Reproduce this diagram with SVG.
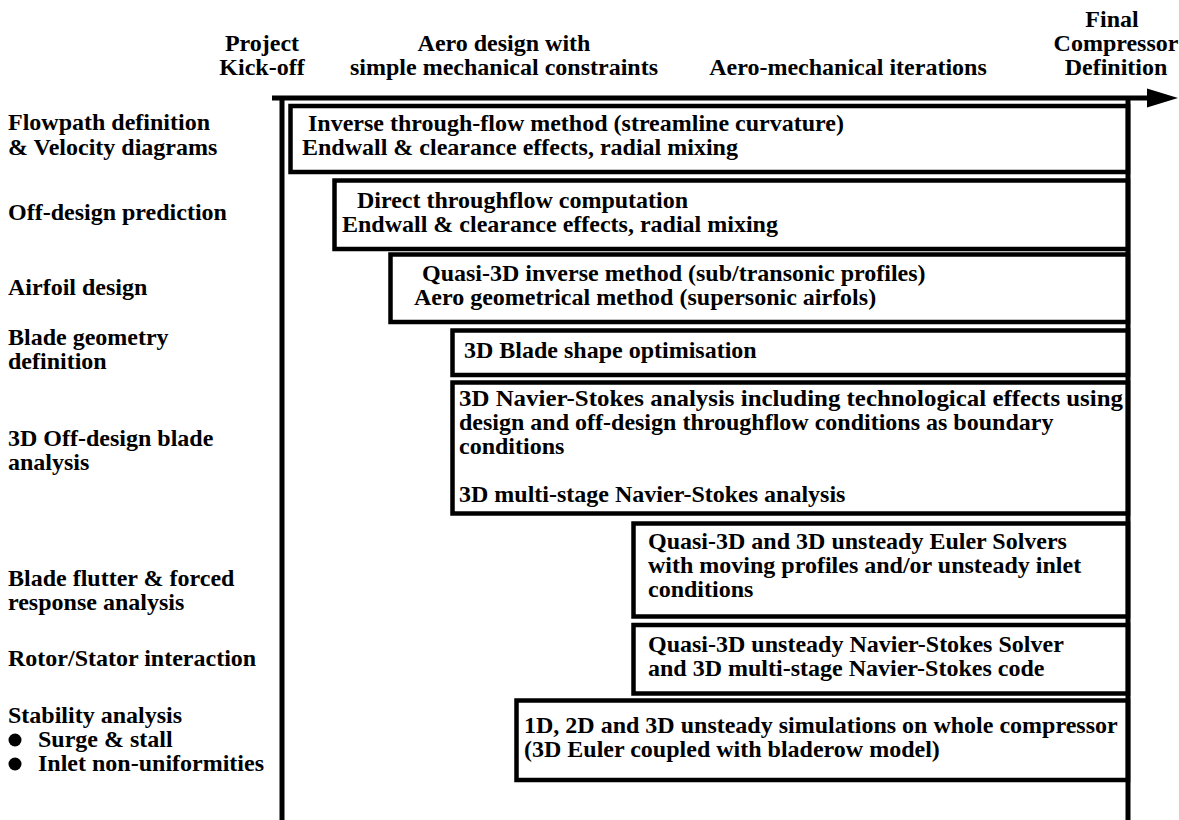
<svg xmlns="http://www.w3.org/2000/svg" width="1179" height="820" viewBox="0 0 1179 820">
<style>
.t{font-family:"Liberation Serif","Times New Roman",serif;font-weight:bold;font-size:24px;fill:#000}
.m{text-anchor:middle}
.box{fill:#fff;stroke:#000;stroke-width:4.5}
.ax{stroke:#000;stroke-width:5;fill:none}
</style>
<rect width="1179" height="820" fill="#fff"/>
<g id="header">
<text class="t m" x="262" y="51">Project</text>
<text class="t m" x="262" y="75">Kick-off</text>
<text class="t m" x="504" y="51">Aero design with</text>
<text class="t m" x="504" y="75">simple mechanical constraints</text>
<text class="t m" x="848" y="75">Aero-mechanical iterations</text>
<text class="t m" x="1112" y="27">Final</text>
<text class="t m" x="1116" y="51">Compressor</text>
<text class="t m" x="1116" y="75">Definition</text>
</g>
<g id="labels">
<text class="t" x="8" y="130">Flowpath definition</text>
<text class="t" x="8" y="155">&amp; Velocity diagrams</text>
<text class="t" x="8" y="220">Off-design prediction</text>
<text class="t" x="8" y="295">Airfoil design</text>
<text class="t" x="8" y="345">Blade geometry</text>
<text class="t" x="8" y="369">definition</text>
<text class="t" x="8" y="446">3D Off-design blade</text>
<text class="t" x="8" y="470">analysis</text>
<text class="t" x="8" y="586">Blade flutter &amp; forced</text>
<text class="t" x="8" y="610">response analysis</text>
<text class="t" x="8" y="666">Rotor/Stator interaction</text>
<text class="t" x="8" y="723">Stability analysis</text>
<circle cx="15" cy="740" r="6.5" fill="#000"/>
<text class="t" x="38" y="747">Surge &amp; stall</text>
<circle cx="15" cy="764" r="6.5" fill="#000"/>
<text class="t" x="38" y="771">Inlet non-uniformities</text>
</g>
<g id="box1">
<rect class="box" x="290.5" y="106" width="837.5" height="66"/>
<text class="t" x="308" y="131">Inverse through-flow method (streamline curvature)</text>
<text class="t" x="302" y="155">Endwall &amp; clearance effects, radial mixing</text>
</g>
<g id="box2">
<rect class="box" x="334.5" y="180.5" width="793.5" height="68.5"/>
<text class="t" x="357" y="208">Direct throughflow computation</text>
<text class="t" x="342" y="232">Endwall &amp; clearance effects, radial mixing</text>
</g>
<g id="box3">
<rect class="box" x="390.5" y="254.5" width="737.5" height="67.5"/>
<text class="t" x="422" y="281">Quasi-3D inverse method (sub/transonic profiles)</text>
<text class="t" x="414" y="305">Aero geometrical method (supersonic airfols)</text>
</g>
<g id="box4">
<rect class="box" x="452.5" y="330.5" width="675.5" height="44.5"/>
<text class="t" x="464" y="358">3D Blade shape optimisation</text>
</g>
<g id="box5">
<rect class="box" x="452.5" y="382.5" width="675.5" height="131"/>
<text class="t" x="459" y="406" textLength="664" lengthAdjust="spacingAndGlyphs">3D Navier-Stokes analysis including technological effects using</text>
<text class="t" x="459" y="430">design and off-design throughflow conditions as boundary</text>
<text class="t" x="459" y="454">conditions</text>
<text class="t" x="459" y="502">3D multi-stage Navier-Stokes analysis</text>
</g>
<g id="box6">
<rect class="box" x="633.5" y="523.5" width="494.5" height="93"/>
<text class="t" x="648" y="549">Quasi-3D and 3D unsteady Euler Solvers</text>
<text class="t" x="648" y="573">with moving profiles and/or unsteady inlet</text>
<text class="t" x="648" y="597">conditions</text>
</g>
<g id="box7">
<rect class="box" x="633.5" y="625" width="494.5" height="68.5"/>
<text class="t" x="648" y="652">Quasi-3D unsteady Navier-Stokes Solver</text>
<text class="t" x="648" y="676">and 3D multi-stage Navier-Stokes code</text>
</g>
<g id="box8">
<rect class="box" x="516.5" y="700.5" width="611.5" height="79.5"/>
<text class="t" x="524" y="733">1D, 2D and 3D unsteady simulations on whole compressor</text>
<text class="t" x="524" y="757">(3D Euler coupled with bladerow model)</text>
</g>
<g id="connectors">
<line class="ax" x1="272" y1="98" x2="1150" y2="98"/>
<polygon points="1147,88.5 1178,98 1147,107.5" fill="#000"/>
<line class="ax" x1="282" y1="96" x2="282" y2="820"/>
<line class="ax" x1="1128" y1="98" x2="1128" y2="820"/>
</g>
</svg>
